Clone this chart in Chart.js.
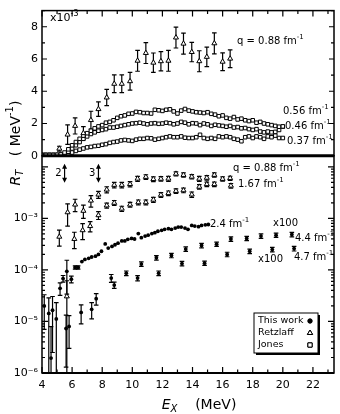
<!DOCTYPE html>
<html>
<head>
<meta charset="utf-8">
<script src="https://cdn.jsdelivr.net/npm/chart.js@4.4.1/dist/chart.umd.min.js"></script>
<style>
  html, body { margin: 0; padding: 0; background: #fff; }
  #wrap { position: relative; width: 340px; height: 414px; }
</style>
</head>
<body>
<div id="wrap"><canvas id="chart" width="340" height="414"></canvas></div>
<script>
const FONT = "'DejaVu Sans', sans-serif";

// axis ticks
const xTicks = [4, 6, 8, 10, 12, 14, 16, 18, 20, 22];
const xTickMarks = [4, 5, 6, 7, 8, 9, 10, 11, 12, 13, 14, 15, 16, 17, 18, 19, 20, 21, 22, 23];
const topTicks = [0, 2, 4, 6, 8];
const topTickMarks = [0, 1, 2, 3, 4, 5, 6, 7, 8, 9];
const logTicks = [1e-6, 1e-5, 1e-4, 1e-3];
const logDecades = [1e-6, 1e-5, 1e-4, 1e-3, 1e-2];

// Jones (open squares), values in units of 1e-3 MeV^-1
const jonesE = [4, 4.25, 4.5, 4.75, 5, 5.25, 5.5, 5.75, 6, 6.25, 6.5, 6.75, 7, 7.25, 7.5, 7.75, 8, 8.25, 8.5, 8.75,
  9, 9.25, 9.5, 9.75, 10, 10.25, 10.5, 10.75, 11, 11.25, 11.5, 11.75, 12, 12.25, 12.5, 12.75, 13, 13.25, 13.5, 13.75,
  14, 14.25, 14.5, 14.75, 15, 15.25, 15.5, 15.75, 16, 16.25, 16.5, 16.75, 17, 17.25, 17.5, 17.75, 18, 18.25, 18.5, 18.75,
  19, 19.25, 19.5, 19.75, 20];
const jones056 = [0.05, 0.05, 0.05, 0.05, 0.06, 0.08, 0.2, 0.4, 0.65, 0.85, 1.05, 1.25, 1.4, 1.55, 1.7, 1.82, 1.9, 2.05, 2.1, 2.2,
  2.35, 2.45, 2.5, 2.6, 2.62, 2.72, 2.7, 2.65, 2.65, 2.62, 2.85, 2.82, 2.78, 2.85, 2.88, 2.75, 2.62, 2.8, 2.9, 2.8,
  2.75, 2.7, 2.68, 2.65, 2.7, 2.6, 2.55, 2.45, 2.5, 2.35, 2.3, 2.4, 2.25, 2.3, 2.2, 2.15, 2.2, 2.05, 2.1, 2.0,
  1.95, 1.9, 1.85, 1.8, 1.82];
const jones046 = [0.05, 0.05, 0.05, 0.05, 0.05, 0.06, 0.1, 0.25, 0.45, 0.65, 0.85, 1.05, 1.2, 1.35, 1.45, 1.55, 1.6, 1.65, 1.75, 1.75,
  1.8, 1.85, 1.9, 1.95, 2.0, 2.02, 2.05, 2.0, 1.95, 2.0, 2.02, 1.98, 2.0, 2.05, 2.02, 1.95, 2.0, 2.1, 2.05, 1.95,
  2.02, 2.0, 1.9, 2.0, 1.95, 1.85, 1.92, 1.88, 1.85, 1.8, 1.85, 1.75, 1.78, 1.7, 1.72, 1.65, 1.6, 1.65, 1.5, 1.45,
  1.5, 1.45, 1.48, 1.6, 1.8];
const jones037 = [0.05, 0.05, 0.05, 0.05, 0.05, 0.05, 0.06, 0.1, 0.2, 0.3, 0.38, 0.45, 0.52, 0.55, 0.6, 0.62, 0.68, 0.72, 0.8, 0.85,
  0.88, 0.95, 0.98, 0.95, 0.92, 1.0, 1.05, 1.05, 1.1, 1.08, 1.0, 1.05, 1.1, 1.15, 1.2, 1.15, 1.15, 1.2, 1.12, 1.1,
  1.1, 1.15, 1.3, 1.1, 1.05, 1.1, 1.05, 1.2, 1.15, 1.2, 1.15, 1.05, 1.0, 0.9, 1.15, 1.2, 1.1, 1.2, 1.15, 1.05,
  1.2, 1.15, 1.25, 1.1, 1.1];

// Retzlaff q = 0.88 fm^-1 (open triangles), units of 1e-3 MeV^-1
const retzE088 = [5.15, 5.7, 6.2, 6.75, 7.25, 7.75, 8.3, 8.8, 9.3, 9.85, 10.35, 10.9, 11.4, 11.9, 12.4, 12.9, 13.4, 13.95, 14.45, 14.95, 15.45, 16.0, 16.5];
const retz088 = [0.44, 1.31, 1.85, 1.4, 2.21, 2.89, 3.61, 4.46, 4.46, 4.62, 5.89, 6.37, 5.77, 5.86, 5.89, 7.33, 6.95, 6.43, 5.86, 6.13, 6.97, 5.83, 6.02];
const retzErr088 = [0.15, 0.6, 0.5, 0.4, 0.55, 0.45, 0.5, 0.55, 0.55, 0.55, 0.65, 0.65, 0.6, 0.6, 0.65, 0.65, 0.65, 0.6, 0.65, 0.6, 0.65, 0.55, 0.55];

// Retzlaff q = 1.67 fm^-1 (MeV^-1)
const retzE167 = [5.65, 6.15, 6.7, 7.2, 7.75, 8.3, 8.8, 9.3, 9.85, 10.4, 10.9, 11.4, 11.9, 12.4, 12.9, 13.4, 13.95, 14.45, 14.95, 15.45, 16.55];
const retz167 = [3.06e-5, 3.98e-4, 5.88e-4, 7.08e-4, 1.15e-3, 1.78e-3, 2.0e-3, 1.54e-3, 1.85e-3, 2.05e-3, 2.05e-3, 2.3e-3, 2.86e-3, 3.08e-3, 3.4e-3, 3.5e-3, 2.9e-3, 4.1e-3, 4.6e-3, 4.6e-3, 4.3e-3];
const retzErr167 = [3.1e-5, 1.4e-4, 2.0e-4, 1.6e-4, 2.0e-4, 2.0e-4, 2.2e-4, 1.8e-4, 2.0e-4, 2.2e-4, 2.2e-4, 2.5e-4, 3.0e-4, 3.2e-4, 3.5e-4, 3.6e-4, 3.5e-4, 4.2e-4, 4.6e-4, 4.6e-4, 4.5e-4];

// This work q = 2.4 fm^-1 (filled circles, MeV^-1)
const workE24 = [4.15, 4.45, 4.6, 4.7, 4.95, 5.2, 5.4, 5.65, 5.95,
  6.2, 6.4, 6.65, 6.85, 7.1, 7.3, 7.55, 7.75, 7.95, 8.2, 8.4, 8.65, 8.85, 9.05, 9.3, 9.5, 9.7, 9.95, 10.15, 10.4,
  10.6, 10.85, 11.05, 11.3, 11.5, 11.7, 11.95, 12.15, 12.4, 12.6, 12.85, 13.05, 13.25, 13.5, 13.7, 13.95, 14.15,
  14.4, 14.6, 14.85, 15.05];
const work24 = [2.0e-5, 1.43e-5, 1.95e-6, 1.65e-5, 1.12e-5, 4.4e-5, 6.8e-5, 9.4e-5, 6.6e-5,
  1.12e-4, 1.12e-4, 1.45e-4, 1.6e-4, 1.68e-4, 1.78e-4, 1.85e-4, 2.0e-4, 2.3e-4, 3.2e-4, 2.65e-4, 2.86e-4, 3.08e-4,
  3.3e-4, 3.65e-4, 3.65e-4, 3.92e-4, 4.09e-4, 3.98e-4, 5.07e-4, 4.22e-4, 4.54e-4, 4.73e-4, 5.07e-4, 5.29e-4, 5.62e-4,
  5.87e-4, 6.14e-4, 6.3e-4, 6.14e-4, 6.49e-4, 6.78e-4, 6.78e-4, 6.49e-4, 6.14e-4, 7.3e-4, 7.08e-4, 6.9e-4, 7.3e-4,
  7.5e-4, 7.6e-4];
const workErr24 = [1.3e-5, 1.45e-5, 6e-6, 1.4e-5, 1.2e-5, 1.2e-5, 1.0e-5, 6e-5, 1.0e-5,
  8e-6, 8e-6, 0, 0, 0, 0, 0, 0, 0, 0, 0, 0, 0, 0, 0, 0, 0, 0, 0, 0, 0, 0, 0, 0, 0, 0, 0, 0, 0, 0, 0, 0, 0, 0, 0, 0, 0, 0, 0, 0, 0];

// This work q = 4.4 fm^-1, shown x100
const workE44 = [5.6, 6.6, 7.6, 8.6, 9.6, 10.6, 11.6, 12.6, 13.55, 14.6, 15.6, 16.55, 17.6, 18.55, 19.55, 20.6];
const work44 = [7.3e-6, 1.5e-5, 2.77e-5, 6.95e-5, 8.63e-5, 1.3e-4, 1.72e-4, 1.91e-4, 2.54e-4, 2.98e-4, 3.16e-4, 3.98e-4, 4.09e-4, 4.54e-4, 4.73e-4, 4.86e-4];
const workErr44 = [6e-6, 6e-6, 7e-6, 1.2e-5, 9e-6, 1.3e-5, 1.7e-5, 1.9e-5, 2.5e-5, 3e-5, 3e-5, 4e-5, 4e-5, 4.5e-5, 4.5e-5, 5e-5];

// This work q = 4.7 fm^-1, shown x100
const workE47 = [5.8, 7.3, 8.8, 10.35, 11.75, 13.3, 14.8, 16.3, 17.8, 19.3, 20.75];
const work47 = [8.0e-6, 1.72e-5, 5.07e-5, 6.95e-5, 8.63e-5, 1.33e-4, 1.35e-4, 2.0e-4, 2.3e-4, 2.48e-4, 2.59e-4];
const workErr47 = [5e-6, 6e-6, 7e-6, 8e-6, 9e-6, 1.3e-5, 1.3e-5, 2e-5, 2.3e-5, 2.5e-5, 2.6e-5];

function pts(xs, ys, k) {
  return xs.map(function (x, i) { return { x: x, y: ys[i] * (k || 1) }; });
}

const SUP = { '-': '\u207B', '1': '\u00B9', '2': '\u00B2', '3': '\u00B3', '4': '\u2074', '5': '\u2075', '6': '\u2076' };
function supStr(s) { return s.split('').map(function (c) { return SUP[c] || c; }).join(''); }

function fontFor(r, size) {
  const s = (r.sup || r.sub) ? Math.round(size * 0.72) : size;
  return (r.it ? 'italic ' : '') + s + 'px ' + FONT;
}

function rich(ctx, x, y, runs, size, align) {
  const widths = runs.map(function (r) { ctx.font = fontFor(r, size); return ctx.measureText(r.t).width; });
  const total = widths.reduce(function (a, b) { return a + b; }, 0);
  let cx = align === 'center' ? x - total / 2 : align === 'right' ? x - total : x;
  ctx.textAlign = 'left';
  ctx.textBaseline = 'middle';
  runs.forEach(function (r, i) {
    ctx.font = fontFor(r, size);
    const dy = r.sup ? -size * 0.4 : r.sub ? size * 0.35 : 0;
    ctx.fillText(r.t, cx, y + dy);
    cx += widths[i];
  });
}

function fm(txt) { return [{ t: txt + ' fm' }, { t: '-1', sup: true }]; }

const errorBars = {
  id: 'errorBars',
  beforeDatasetsDraw(chart) {
    const ctx = chart.ctx;
    const xs = chart.scales.x;
    ctx.save();
    ctx.strokeStyle = '#000';
    ctx.lineWidth = 1.2;
    chart.data.datasets.forEach(function (ds) {
      if (!ds.errors) return;
      const ys = chart.scales[ds.yAxisID];
      const isLog = ys.type === 'logarithmic';
      ds.data.forEach(function (p, j) {
        const e = ds.errors[j];
        if (!e) return;
        const x = xs.getPixelForValue(p.x);
        const lo = p.y - e;
        let y1 = ys.getPixelForValue(p.y + e);
        let y2 = (isLog && lo <= 0) ? ys.bottom + 10 : ys.getPixelForValue(lo);
        const cap1 = y1 >= ys.top, cap2 = y2 <= ys.bottom;
        y1 = Math.max(y1, ys.top);
        y2 = Math.min(y2, ys.bottom);
        ctx.beginPath();
        ctx.moveTo(x, y1); ctx.lineTo(x, y2);
        if (cap1) { ctx.moveTo(x - 2.3, y1); ctx.lineTo(x + 2.3, y1); }
        if (cap2) { ctx.moveTo(x - 2.3, y2); ctx.lineTo(x + 2.3, y2); }
        ctx.stroke();
      });
    });
    ctx.restore();
  }
};

const decor = {
  id: 'decor',
  afterDatasetsDraw(chart) {
    const ctx = chart.ctx;
    const x = chart.scales.x, yT = chart.scales.yTop, yB = chart.scales.yBot;
    const L = x.left, R = x.right;
    ctx.save();
    ctx.strokeStyle = '#000';
    ctx.fillStyle = '#000';

    // frames
    ctx.lineWidth = 1.5;
    ctx.strokeRect(L, yT.top, R - L, yT.bottom - yT.top);
    ctx.strokeRect(L, yB.top, R - L, yB.bottom - yB.top);
    ctx.lineWidth = 3;
    ctx.beginPath(); ctx.moveTo(L, yT.bottom); ctx.lineTo(R, yT.bottom); ctx.stroke();
    ctx.lineWidth = 2.2;
    ctx.beginPath(); ctx.moveTo(L, yB.bottom); ctx.lineTo(R, yB.bottom); ctx.stroke();

    // tick marks pointing inwards
    ctx.lineWidth = 1.2;
    ctx.beginPath();
    xTickMarks.forEach(function (v) {
      const px = x.getPixelForValue(v);
      const len = v % 2 === 0 ? 6 : 3.5;
      ctx.moveTo(px, yB.bottom); ctx.lineTo(px, yB.bottom - len);
      ctx.moveTo(px, yT.top); ctx.lineTo(px, yT.top + len);
    });
    topTickMarks.forEach(function (v) {
      const py = yT.getPixelForValue(v);
      const len = v % 2 === 0 ? 5 : 3;
      ctx.moveTo(L, py); ctx.lineTo(L + len, py);
      ctx.moveTo(R, py); ctx.lineTo(R - len, py);
    });
    logDecades.forEach(function (d) {
      [1, 2, 3, 4, 5, 6, 7, 8, 9].forEach(function (m) {
        const v = d * m;
        if (v > yB.max) return;
        const py = yB.getPixelForValue(v);
        const len = m === 1 ? 6 : 3;
        ctx.moveTo(L, py); ctx.lineTo(L + len, py);
        ctx.moveTo(R, py); ctx.lineTo(R - len, py);
      });
    });
    ctx.stroke();

    // series labels
    const S = 10;
    rich(ctx, 50, 18, [{ t: 'x10' }, { t: '-3', sup: true }], 11, 'left');
    rich(ctx, 237, 41, [{ t: 'q = 0.88 fm' }, { t: '-1', sup: true }], S, 'left');
    rich(ctx, 283, 111, fm('0.56'), S, 'left');
    rich(ctx, 285, 126, fm('0.46'), S, 'left');
    rich(ctx, 287, 141, fm('0.37'), S, 'left');
    rich(ctx, 233, 168, [{ t: 'q = 0.88 fm' }, { t: '-1', sup: true }], S, 'left');
    rich(ctx, 238, 184, fm('1.67'), S, 'left');
    rich(ctx, 210, 224, fm('2.4'), S, 'left');
    rich(ctx, 273, 223, [{ t: 'x100' }], S, 'left');
    rich(ctx, 295, 238, fm('4.4'), S, 'left');
    rich(ctx, 258, 259, [{ t: 'x100' }], S, 'left');
    rich(ctx, 294, 257, fm('4.7'), S, 'left');

    // threshold arrows
    [[5.5, '2'], [7.75, '3']].forEach(function (a) {
      const px = x.getPixelForValue(a[0]);
      const y1 = yB.top + 8, y2 = yB.top + 27;
      ctx.lineWidth = 1.2;
      ctx.beginPath(); ctx.moveTo(px, y1 + 3); ctx.lineTo(px, y2 - 3); ctx.stroke();
      ctx.beginPath();
      ctx.moveTo(px, y1); ctx.lineTo(px - 2.5, y1 + 5); ctx.lineTo(px + 2.5, y1 + 5); ctx.closePath();
      ctx.moveTo(px, y2); ctx.lineTo(px - 2.5, y2 - 5); ctx.lineTo(px + 2.5, y2 - 5); ctx.closePath();
      ctx.fill();
      rich(ctx, px - 3, (y1 + y2) / 2, [{ t: a[1] }], 10, 'right');
    });

    // legend box
    const bx = 254, by = 313, bw = 64, bh = 40;
    ctx.fillRect(bx + 2, by + 2, bw, bh);
    ctx.fillStyle = '#fff';
    ctx.fillRect(bx, by, bw, bh);
    ctx.lineWidth = 1;
    ctx.strokeRect(bx, by, bw, bh);
    ctx.fillStyle = '#000';
    const rows = [['This work', 'circle'], ['Retzlaff', 'triangle'], ['Jones', 'rect']];
    rows.forEach(function (r, i) {
      const ry = by + 8 + i * 12;
      rich(ctx, bx + 4, ry, [{ t: r[0] }], 9.5, 'left');
      ctx.lineWidth = 1;
      Chart.helpers.drawPoint(ctx, {
        pointStyle: r[1], radius: r[1] === 'circle' ? 2.2 : 3, borderWidth: 1, rotation: 0
      }, bx + bw - 8, ry);
      if (r[1] === 'circle') ctx.fill(); else { ctx.fillStyle = '#fff'; ctx.fill(); ctx.stroke(); ctx.fillStyle = '#000'; }
    });

    // axis titles
    rich(ctx, 199, 405, [{ t: 'E', it: true }, { t: 'X', it: true, sub: true }, { t: '    (MeV)' }], 14, 'center');
    ctx.translate(16, 143);
    ctx.rotate(-Math.PI / 2);
    rich(ctx, 0, 0, [{ t: 'R', it: true }, { t: 'T', it: true, sub: true }, { t: '   ( MeV' }, { t: '-1', sup: true }, { t: ')' }], 14, 'center');
    ctx.restore();
  }
};

const tickFont = { family: FONT, size: 11 };

const openSquare = { pointStyle: 'rect', pointRadius: 2.5, borderColor: '#000', backgroundColor: '#fff', borderWidth: 1, yAxisID: 'yTop' };
const openTri = { pointStyle: 'triangle', pointRadius: 2.9, borderColor: '#000', backgroundColor: '#fff', borderWidth: 1 };
const dot = { pointStyle: 'circle', pointRadius: 1.9, borderColor: '#000', backgroundColor: '#000', borderWidth: 0, yAxisID: 'yBot' };

new Chart(document.getElementById('chart'), {
  type: 'scatter',
  data: {
    datasets: [
      Object.assign({ label: 'Retzlaff 0.88', data: pts(retzE088, retz088), errors: retzErr088, yAxisID: 'yTop' }, openTri),
      Object.assign({ label: 'Jones 0.56', data: pts(jonesE, jones056) }, openSquare),
      Object.assign({ label: 'Jones 0.46', data: pts(jonesE, jones046) }, openSquare),
      Object.assign({ label: 'Jones 0.37', data: pts(jonesE, jones037) }, openSquare),
      Object.assign({ label: 'Retzlaff 0.88 log', data: pts(retzE088, retz088, 1e-3), errors: retzErr088.map(function (e) { return e * 1e-3; }), yAxisID: 'yBot' }, openTri),
      Object.assign({ label: 'Retzlaff 1.67', data: pts(retzE167, retz167), errors: retzErr167, yAxisID: 'yBot' }, openTri),
      Object.assign({ label: 'This work 2.4', data: pts(workE24, work24), errors: workErr24 }, dot),
      Object.assign({ label: 'This work 4.4 x100', data: pts(workE44, work44), errors: workErr44 }, dot),
      Object.assign({ label: 'This work 4.7 x100', data: pts(workE47, work47), errors: workErr47 }, dot)
    ]
  },
  options: {
    responsive: false,
    animation: false,
    layout: { padding: { left: 0, right: 6, top: 1, bottom: 0 } },
    plugins: { legend: { display: false }, tooltip: { enabled: false } },
    scales: {
      x: {
        type: 'linear', position: 'bottom', min: 4, max: 23.4,
        afterBuildTicks: function (s) { s.ticks = xTicks.map(function (v) { return { value: v }; }); },
        afterFit: function (s) { s.height = 41; },
        grid: { display: false, drawTicks: false }, border: { display: false },
        ticks: { autoSkip: false, maxRotation: 0, padding: 6, color: '#000', font: tickFont }
      },
      yBot: {
        type: 'logarithmic', position: 'left', stack: 'rt', stackWeight: 223, min: 1e-6, max: 0.0164,
        afterBuildTicks: function (s) { s.ticks = logTicks.map(function (v) { return { value: v }; }); },
        afterFit: function (s) { s.width = 42; },
        grid: { display: false, drawTicks: false }, border: { display: false },
        ticks: {
          autoSkip: false, padding: 4, color: '#000', font: tickFont,
          callback: function (v) { return '10' + supStr(String(Math.round(Math.log10(v)))); }
        }
      },
      yTop: {
        type: 'linear', position: 'left', stack: 'rt', stackWeight: 149, min: 0, max: 9,
        afterBuildTicks: function (s) { s.ticks = topTicks.map(function (v) { return { value: v }; }); },
        afterFit: function (s) { s.width = 42; },
        grid: { display: false, drawTicks: false }, border: { display: false },
        ticks: { autoSkip: false, padding: 4, color: '#000', font: tickFont }
      }
    }
  },
  plugins: [errorBars, decor]
});
</script>
</body>
</html>
